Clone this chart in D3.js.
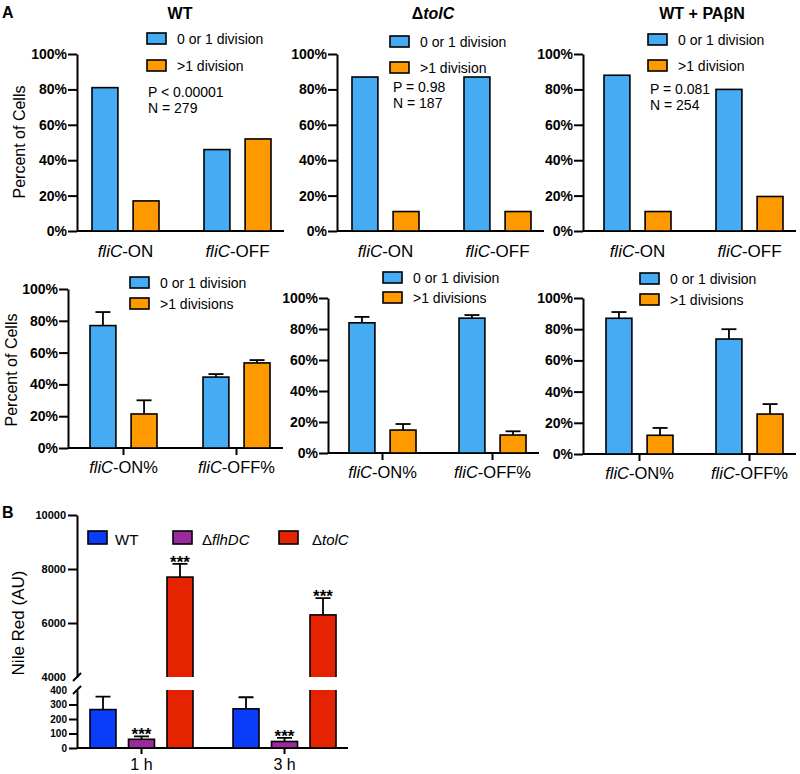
<!DOCTYPE html>
<html>
<head>
<meta charset="utf-8">
<script src="https://cdn.jsdelivr.net/npm/d3@7"></script>
<style>
  body { margin: 0; background: #fff; }
  svg text { font-family: "Liberation Sans", Arial, sans-serif; fill: #000; }
</style>
</head>
<body>
<svg id="fig" width="800" height="774"></svg>
<script>
// values
const strainTitles = ["WT", "ΔtolC", "WT + PAβN"];
const pLabels = ["P < 0.00001", "P = 0.98", "P = 0.081"];
const nLabels = ["N = 279", "N = 187", "N = 254"];
const cellGroups = ["fliC-ON", "fliC-OFF"];
const cellGroupsPct = ["fliC-ON%", "fliC-OFF%"];
const divSeries = ["0 or 1 division", ">1 division"];
const divSeriesPl = ["0 or 1 division", ">1 divisions"];
const pctTicks = [0, 20, 40, 60, 80, 100];

// one experiment, per strain: [fliC-ON, fliC-OFF]
const singleLow = [[81, 46], [87, 87], [88, 80]];
const singleHigh = [[17, 52], [11, 11], [11, 19.5]];
// replicates: mean and error
const meanLow = [[77, 44.6], [84, 87], [87, 73.7]];
const errLow = [[8.5, 1.9], [3.8, 2], [4, 6.3]];
const meanHigh = [[21.4, 53.5], [14.8, 11.6], [12, 25.6]];
const errHigh = [[8.6, 1.8], [3.9, 2.4], [4.7, 6.4]];

// panel B
const timePoints = ["1 h", "3 h"];
const nileStrains = ["WT", "ΔflhDC", "ΔtolC"];
const nileMean = [[265, 60, 7700], [270, 45, 6300]];
const nileErr = [[90, 20, 490], [80, 25, 620]];
const nileStars = [["", "***", "***"], ["", "***", "***"]];
const lowTicks = [0, 100, 200, 300, 400];
const highTicks = [4000, 6000, 8000, 10000];

const divColors = ["#45abf2", "#ff9900"];
const nileColors = ["#0a3dfa", "#9b2a9c", "#e52300"];

const svg = d3.select("#fig");

// italic gene names inside labels
function richText(sel, str) {
  sel.text(null);
  str.split(/(fliC|tolC|flhDC)/).filter(s => s.length).forEach(part => {
    const t = sel.append("tspan").text(part);
    if (/^(fliC|tolC|flhDC)$/.test(part)) t.attr("font-style", "italic");
  });
}

function styleAxis(a, size) {
  a.selectAll("text").attr("font-size", size).attr("font-weight", "bold");
  a.selectAll("line, path").attr("stroke", "#000").attr("stroke-width", 2);
}

// layout of the six panels of A
const topLayout = [
  {x0: 77, yTop: 54, yBase: 231, off: 15, step: 112, title: 180, leg: [147, 33, 27], p: [148, 97]},
  {x0: 337, yTop: 54, yBase: 231, off: 15, step: 112, title: 433, leg: [390, 36, 26], p: [393, 92]},
  {x0: 583, yTop: 54, yBase: 231, off: 21, step: 112, title: 702, leg: [648, 34, 26], p: [650, 94]}
];
const botLayout = [
  {x0: 68, yTop: 289, yBase: 448, off: 22, step: 113, leg: [130, 277, 21]},
  {x0: 328, yTop: 298, yBase: 453, off: 21, step: 110, leg: [383, 272, 20]},
  {x0: 583, yTop: 298, yBase: 454, off: 23, step: 110, leg: [640, 273, 21]}
];

function drawPanel(L, groups, low, high, eLow, eHigh, legendNames, ticked) {
  const g = svg.append("g");
  const gw = 67;
  const y = d3.scaleLinear().domain([0, 100]).range([L.yBase, L.yTop]);
  const x = d3.scaleBand().domain(groups)
    .range([L.x0 + L.off, L.x0 + L.off + L.step + gw])
    .paddingInner((L.step - gw) / L.step).paddingOuter(0);
  const xs = d3.scaleBand().domain([0, 1]).range([0, x.bandwidth()]).paddingInner(0.37);

  g.append("g").attr("transform", `translate(${L.x0},0)`)
    .call(d3.axisLeft(y).tickValues(pctTicks).tickFormat(d => d + "%")
      .tickSize(9).tickSizeOuter(0).tickPadding(1))
    .call(a => styleAxis(a, 14));

  g.append("line")
    .attr("x1", L.x0).attr("x2", L.x0 + L.off + L.step + gw + 13)
    .attr("y1", L.yBase).attr("y2", L.yBase)
    .attr("stroke", "#000").attr("stroke-width", 2);

  const xa = g.append("g").attr("transform", `translate(0,${L.yBase})`)
    .call(d3.axisBottom(x).tickSize(ticked ? 7 : 0).tickSizeOuter(0).tickPadding(ticked ? 6 : 14));
  xa.select(".domain").remove();
  xa.selectAll("line").attr("stroke", "#000").attr("stroke-width", 2);
  xa.selectAll("text").attr("font-size", ticked ? 16.5 : 17)
    .each(function (d) { richText(d3.select(this), d); });

  const bars = [];
  groups.forEach((grp, i) => {
    bars.push({grp, s: 0, v: low[i], e: eLow ? eLow[i] : 0});
    bars.push({grp, s: 1, v: high[i], e: eHigh ? eHigh[i] : 0});
  });
  const bx = d => x(d.grp) + xs(d.s);

  if (eLow) {
    const eb = g.selectAll(".err").data(bars).join("g");
    eb.append("line")
      .attr("x1", d => bx(d) + xs.bandwidth() / 2).attr("x2", d => bx(d) + xs.bandwidth() / 2)
      .attr("y1", d => y(d.v)).attr("y2", d => y(d.v + d.e))
      .attr("stroke", "#000").attr("stroke-width", 1.8);
    eb.append("line")
      .attr("x1", d => bx(d) + xs.bandwidth() / 2 - 7.5).attr("x2", d => bx(d) + xs.bandwidth() / 2 + 7.5)
      .attr("y1", d => y(d.v + d.e)).attr("y2", d => y(d.v + d.e))
      .attr("stroke", "#000").attr("stroke-width", 1.8);
  }

  g.selectAll(".bar").data(bars).join("rect")
    .attr("x", bx).attr("width", xs.bandwidth())
    .attr("y", d => y(d.v)).attr("height", d => L.yBase - y(d.v))
    .attr("fill", d => divColors[d.s])
    .attr("stroke", "#000").attr("stroke-width", 1.6);

  const [lx, ly, ld] = L.leg;
  legendNames.forEach((name, k) => {
    g.append("rect").attr("x", lx).attr("y", ly + k * ld).attr("width", 19).attr("height", 11)
      .attr("fill", divColors[k]).attr("stroke", "#000").attr("stroke-width", 1.6);
    g.append("text").attr("x", lx + 30).attr("y", ly + k * ld + 11)
      .attr("font-size", 14).text(name);
  });
  return g;
}

topLayout.forEach((L, i) => {
  const g = drawPanel(L, cellGroups, singleLow[i], singleHigh[i], null, null, divSeries, false);
  const t = g.append("text").attr("x", L.title).attr("y", 19).attr("text-anchor", "middle")
    .attr("font-size", 16).attr("font-weight", "bold");
  richText(t, strainTitles[i]);
  g.append("text").attr("x", L.p[0]).attr("y", L.p[1]).attr("font-size", 14).text(pLabels[i]);
  g.append("text").attr("x", L.p[0]).attr("y", L.p[1] + 16).attr("font-size", 14).text(nLabels[i]);
});

botLayout.forEach((L, i) => {
  drawPanel(L, cellGroupsPct, meanLow[i], meanHigh[i], errLow[i], errHigh[i], divSeriesPl, true);
});

svg.append("text").attr("transform", "translate(25,142) rotate(-90)")
  .attr("text-anchor", "middle").attr("font-size", 16).text("Percent of Cells");
svg.append("text").attr("transform", "translate(17,370) rotate(-90)")
  .attr("text-anchor", "middle").attr("font-size", 16).text("Percent of Cells");
svg.append("text").attr("x", 2).attr("y", 18).attr("font-size", 16).attr("font-weight", "bold").text("A");
svg.append("text").attr("x", 2).attr("y", 518).attr("font-size", 16).attr("font-weight", "bold").text("B");

// ---- panel B: broken y axis ----
const bx0 = 77, bBase = 748;
const yLow = d3.scaleLinear().domain([0, 400]).range([bBase, 690]);
const yHigh = d3.scaleLinear().domain([4000, 10000]).range([677, 515]);
const xT = d3.scaleBand().domain(timePoints).range([90, 336]).paddingInner(0.28).paddingOuter(0);
const xS = d3.scaleBand().domain(nileStrains).range([0, xT.bandwidth()]).paddingInner(0.325);

const gB = svg.append("g");
const defs = svg.append("defs");
defs.append("clipPath").attr("id", "clipHigh").append("rect")
  .attr("x", 0).attr("y", 500).attr("width", 800).attr("height", 677 - 500);
defs.append("clipPath").attr("id", "clipLow").append("rect")
  .attr("x", 0).attr("y", 690).attr("width", 800).attr("height", 80);

gB.append("g").attr("transform", `translate(${bx0},0)`)
  .call(d3.axisLeft(yHigh).tickValues(highTicks).tickFormat(d3.format("d"))
    .tickSize(9).tickSizeOuter(0).tickPadding(2))
  .call(a => styleAxis(a, 11))
  .call(a => a.selectAll(".tick").filter(d => d === 4000).select("line").remove());
gB.append("g").attr("transform", `translate(${bx0},0)`)
  .call(d3.axisLeft(yLow).tickValues(lowTicks).tickFormat(d3.format("d"))
    .tickSize(8).tickSizeOuter(0).tickPadding(2))
  .call(a => styleAxis(a, 10))
  .call(a => a.selectAll(".tick").filter(d => d === 400).select("line").remove());
[yHigh(4000), yLow(400)].forEach(yy => {
  gB.append("line").attr("x1", bx0 - 4).attr("x2", bx0 + 4).attr("y1", yy + 4).attr("y2", yy - 4)
    .attr("stroke", "#000").attr("stroke-width", 2);
});

gB.append("line").attr("x1", bx0).attr("x2", 348).attr("y1", bBase).attr("y2", bBase)
  .attr("stroke", "#000").attr("stroke-width", 2);
const xaB = gB.append("g").attr("transform", `translate(0,${bBase})`)
  .call(d3.axisBottom(xT).tickSize(6).tickSizeOuter(0).tickPadding(5));
xaB.select(".domain").remove();
xaB.selectAll("line").attr("stroke", "#000").attr("stroke-width", 2);
xaB.selectAll("text").attr("font-size", 16);

const nile = [];
timePoints.forEach((tp, i) => nileStrains.forEach((st, k) => {
  nile.push({tp, st, k, v: nileMean[i][k], e: nileErr[i][k], star: nileStars[i][k]});
}));
const nx = d => xT(d.tp) + xS(d.st);
const cx = d => nx(d) + xS.bandwidth() / 2;
const errY = d => d.v + d.e > 400 ? yHigh(d.v + d.e) : yLow(d.v + d.e);
const topY = d => d.v > 400 ? yHigh(d.v) : yLow(d.v);

gB.selectAll(".eb").data(nile).join("path")
  .attr("d", d => `M${cx(d)},${topY(d)}V${errY(d)}M${cx(d) - 7.5},${errY(d)}H${cx(d) + 7.5}`)
  .attr("fill", "none").attr("stroke", "#000").attr("stroke-width", 1.8);

gB.append("g").attr("clip-path", "url(#clipLow)")
  .selectAll("rect").data(nile).join("rect")
  .attr("x", nx).attr("width", xS.bandwidth())
  .attr("y", d => yLow(Math.min(d.v, 450))).attr("height", d => bBase - yLow(Math.min(d.v, 450)))
  .attr("fill", d => nileColors[d.k]).attr("stroke", "#000").attr("stroke-width", 1.6);
gB.append("g").attr("clip-path", "url(#clipHigh)")
  .selectAll("rect").data(nile.filter(d => d.v > 4000)).join("rect")
  .attr("x", nx).attr("width", xS.bandwidth())
  .attr("y", d => yHigh(d.v)).attr("height", d => yHigh(3800) - yHigh(d.v))
  .attr("fill", d => nileColors[d.k]).attr("stroke", "#000").attr("stroke-width", 1.6);

gB.selectAll(".star").data(nile.filter(d => d.star)).join("text")
  .attr("x", cx).attr("y", d => errY(d) + 4).attr("text-anchor", "middle")
  .attr("font-size", 17).attr("font-weight", "bold").text(d => d.star);

const legX = [[88, 115], [173, 202], [279, 312]];
nileStrains.forEach((name, k) => {
  gB.append("rect").attr("x", legX[k][0]).attr("y", 531).attr("width", 19).attr("height", 13)
    .attr("fill", nileColors[k]).attr("stroke", "#000").attr("stroke-width", 1.6);
  const t = gB.append("text").attr("x", legX[k][1]).attr("y", 545).attr("font-size", 15);
  richText(t, name);
});

svg.append("text").attr("transform", "translate(24,623) rotate(-90)")
  .attr("text-anchor", "middle").attr("font-size", 17).text("Nile Red (AU)");
</script>
</body>
</html>
